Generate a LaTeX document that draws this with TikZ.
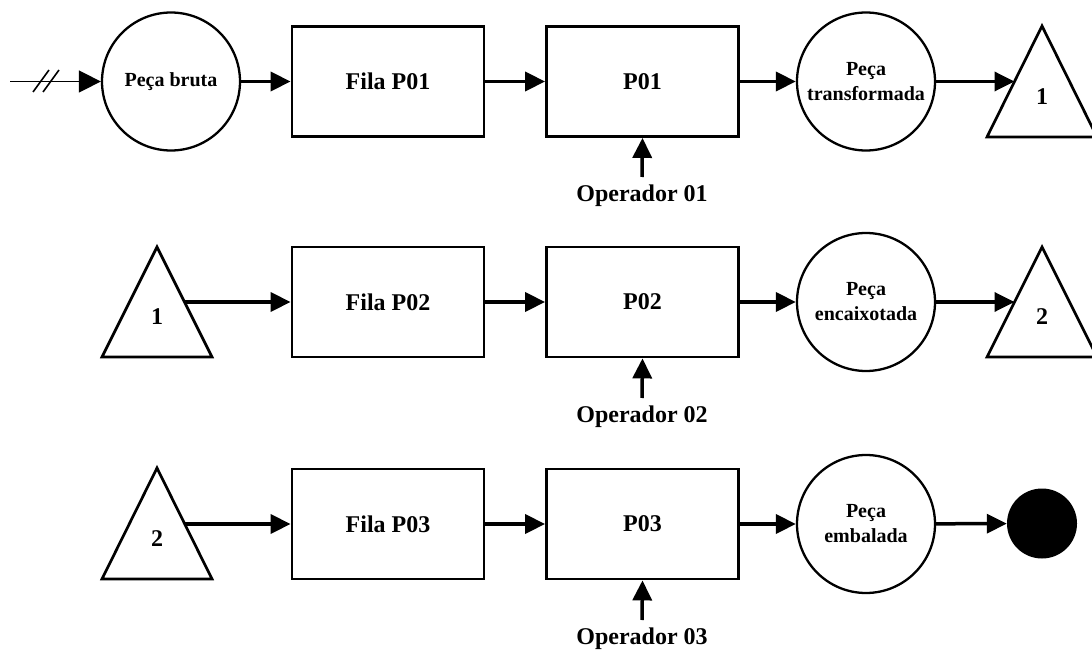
\documentclass[tikz,border=0pt]{standalone}
\usepackage{fontspec}
\setmainfont{Liberation Serif}
\usetikzlibrary{arrows.meta}
\tikzset{
  boxtext/.style={font=\fontsize{24}{24}\selectfont\bfseries},
  circtext/.style={font=\fontsize{20}{25}\selectfont\bfseries, align=center},
  procbox/.style={draw, line width=2.8pt, minimum width=192pt, minimum height=110pt, inner sep=0pt, boxtext},
  state/.style={draw, circle, line width=2.3pt, minimum size=138pt, inner sep=0pt, circtext},
  sink/.style={circle, fill=black, minimum size=70pt, inner sep=0pt},
  conn/.style={line width=3.5pt, -{Triangle[length=20pt,width=19pt]}},
  entry/.style={line width=1.6pt, -{Triangle[length=22pt,width=22pt]}},
  tri/.style={line width=2.7pt, line join=miter},
  optext/.style={boxtext, inner sep=0pt}
}
\begin{document}
\begin{tikzpicture}[x=1pt, y=-1pt]
\useasboundingbox (0,0) rectangle (1092,655);

% ---------- row 1 ----------
\node[state] (bruta) at (171,81.5) {Peça bruta};
\node[procbox] (fila1) at (388,81.5) {Fila P01};
\node[procbox] (p1) at (642.5,81.5) {P01};
\node[state] (transf) at (866,81.5) {Peça\\transformada};
\draw[tri] (1042,26) -- (987,137) -- (1097,137) -- cycle;
\node[boxtext] (c1out) at (1042,97) {1};
\coordinate (c1in) at (1014.5,81.5);
\node[optext] (op1) at (642,196) {Operador 01};
\coordinate (op1tail) at (642,177);

\coordinate (src) at (10,81.5);
\draw[entry] (src) -- (bruta);
\draw[line width=1.6pt] (33,92) -- (49,70);
\draw[line width=1.6pt] (43,92) -- (59,70);
\draw[conn] (bruta) -- (fila1);
\draw[conn] (fila1) -- (p1);
\draw[conn] (p1) -- (transf);
\draw[conn] (transf) -- (c1in);
\draw[conn] (op1tail) -- (p1.south);

% ---------- row 2 ----------
\draw[tri] (157,247) -- (102,357) -- (212,357) -- cycle;
\node[boxtext] (c1) at (157,317) {1};
\coordinate (c1src) at (184.5,302);
\node[procbox] (fila2) at (388,302) {Fila P02};
\node[procbox] (p2) at (642.5,302) {P02};
\node[state] (encaix) at (866,302) {Peça\\encaixotada};
\draw[tri] (1042,247) -- (987,357) -- (1097,357) -- cycle;
\node[boxtext] (c2out) at (1042,317) {2};
\coordinate (c2in) at (1014.5,302);
\node[optext] (op2) at (642,417) {Operador 02};
\coordinate (op2tail) at (642,398);

\draw[conn] (c1src) -- (fila2);
\draw[conn] (fila2) -- (p2);
\draw[conn] (p2) -- (encaix);
\draw[conn] (encaix) -- (c2in);
\draw[conn] (op2tail) -- (p2.south);

% ---------- row 3 ----------
\draw[tri] (157,468) -- (102,579) -- (212,579) -- cycle;
\node[boxtext] (c2) at (157,539) {2};
\coordinate (c2src) at (184.5,524);
\node[procbox] (fila3) at (388,524) {Fila P03};
\node[procbox] (p3) at (642.5,524) {P03};
\node[state] (embal) at (866,524) {Peça\\embalada};
\node[sink] (fim) at (1042,523.5) {};
\node[optext] (op3) at (642,639) {Operador 03};
\coordinate (op3tail) at (642,620);

\draw[conn] (c2src) -- (fila3);
\draw[conn] (fila3) -- (p3);
\draw[conn] (p3) -- (embal);
\draw[conn] (embal) -- (fim);
\draw[conn] (op3tail) -- (p3.south);
\end{tikzpicture}
\end{document}
